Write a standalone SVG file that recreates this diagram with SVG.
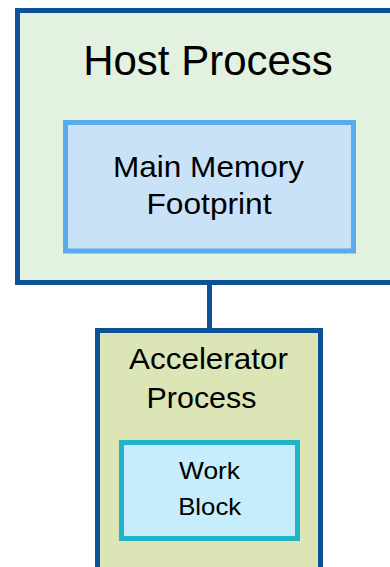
<svg xmlns="http://www.w3.org/2000/svg" width="390" height="567" viewBox="0 0 390 567">
  <style>
    .lbl { font-family: "Liberation Sans", Arial, sans-serif; fill: #000; text-anchor: middle; }
    .proc { stroke: #0d5296; stroke-width: 5; }
  </style>
  <rect width="390" height="567" fill="#ffffff"/>
  <g id="connectors">
    <line x1="209.5" y1="284" x2="209.5" y2="330" stroke="#0d5296" stroke-width="5"/>
  </g>
  <g id="host">
    <rect class="proc" x="17.5" y="10.5" width="400" height="272" fill="#e3f1e0"/>
    <text class="lbl" x="208" y="75" font-size="42">Host Process</text>
  </g>
  <g id="memory">
    <rect x="65.5" y="122.5" width="288" height="128.5" fill="#c9e2f8" stroke="#5aabee" stroke-width="5"/>
    <text class="lbl" x="208.5" y="176.5" font-size="30" textLength="191" lengthAdjust="spacingAndGlyphs">Main Memory</text>
    <text class="lbl" x="209" y="213.5" font-size="30" textLength="125" lengthAdjust="spacingAndGlyphs">Footprint</text>
  </g>
  <g id="accelerator">
    <rect class="proc" x="97.5" y="330.5" width="223" height="260" fill="#dbe5b5"/>
    <text class="lbl" x="208.5" y="368.5" font-size="30" textLength="159" lengthAdjust="spacingAndGlyphs">Accelerator</text>
    <text class="lbl" x="201.5" y="408" font-size="30" textLength="110" lengthAdjust="spacingAndGlyphs">Process</text>
  </g>
  <g id="work">
    <rect x="121.5" y="442.5" width="176" height="96" fill="#c5edfc" stroke="#22b3c9" stroke-width="5"/>
    <text class="lbl" x="209.5" y="479" font-size="24.5" textLength="61" lengthAdjust="spacingAndGlyphs">Work</text>
    <text class="lbl" x="209.7" y="515" font-size="24.5" textLength="63" lengthAdjust="spacingAndGlyphs">Block</text>
  </g>
</svg>
